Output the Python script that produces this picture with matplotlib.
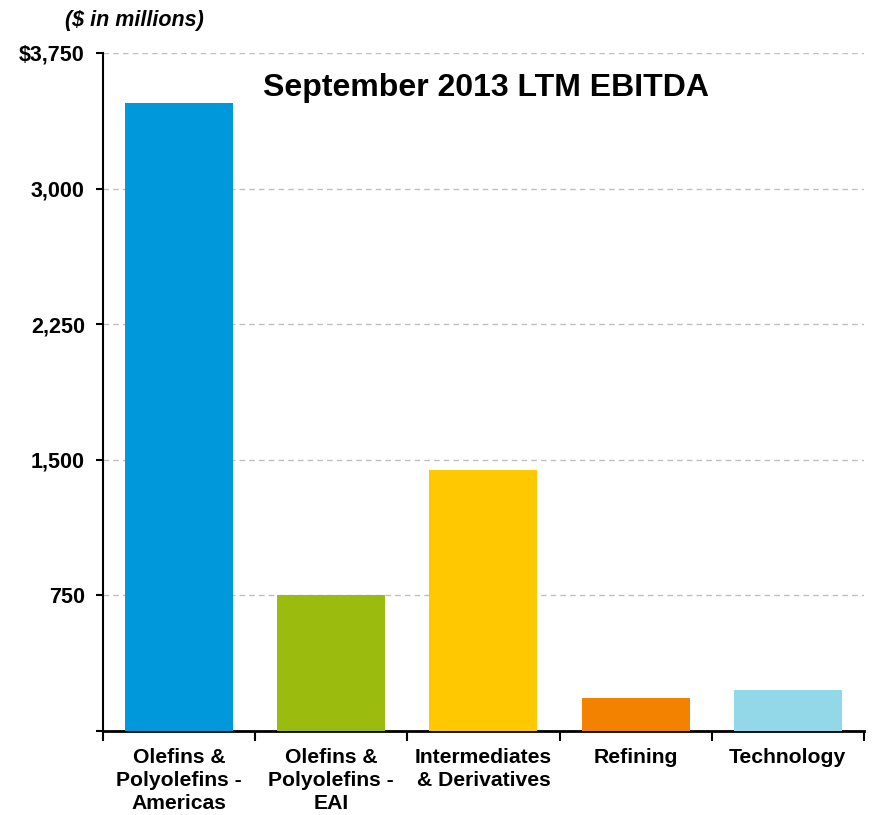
import matplotlib.pyplot as plt
from matplotlib.ticker import FixedLocator

plt.rcParams['font.family'] = ['Liberation Sans', 'DejaVu Sans']

# data
categories = ["Olefins &\nPolyolefins -\nAmericas", "Olefins &\nPolyolefins -\nEAI",
              "Intermediates\n& Derivatives", "Refining", "Technology"]
ebitda = [3475, 755, 1445, 183, 228]
colors = ["#0097DB", "#9BBB0F", "#FFC800", "#F38200", "#93D8E8"]
yticks = [0, 750, 1500, 2250, 3000, 3750]
ytick_labels = ["", "750", "1,500", "2,250", "3,000", "$3,750"]

fig = plt.figure(figsize=(8.74, 8.15), dpi=100)
ax = fig.add_axes([0.1178, 0.103, 0.8707, 0.832])

x = list(range(len(categories)))
ax.bar(x, ebitda, width=0.71, color=colors, zorder=3)

ax.set_xlim(-0.5, len(categories) - 0.5)
ax.set_ylim(0, 3750)
ax.set_yticks(yticks)
ax.set_yticklabels(ytick_labels, fontsize=15.5, fontweight="bold")
ax.yaxis.grid(True, linestyle=(0, (4, 3)), color="#BFBFBF", linewidth=1, zorder=0)

# category labels centred, ticks on boundaries
ax.set_xticks(x)
ax.set_xticklabels(categories, fontsize=15.2, fontweight="bold", linespacing=1.28)
ax.tick_params(axis="x", length=0, pad=12)
ax.xaxis.set_minor_locator(FixedLocator([i - 0.5 for i in range(len(categories) + 1)]))
ax.tick_params(axis="x", which="minor", length=7, width=1.5, direction="out")
ax.tick_params(axis="y", length=5, width=1.5, direction="out", pad=8)

for side in ["top", "right"]:
    ax.spines[side].set_visible(False)
ax.spines["left"].set_linewidth(1.5)
ax.spines["bottom"].set_linewidth(2)

ax.text(0.503, 0.948, "September 2013 LTM EBITDA", transform=ax.transAxes,
        ha="center", va="center", fontsize=23, fontweight="bold")
fig.text(0.074, 0.975, "($ in millions)", ha="left", va="center",
         fontsize=15.5, fontweight="bold", fontstyle="italic")

fig.savefig("out.png", dpi=100)
